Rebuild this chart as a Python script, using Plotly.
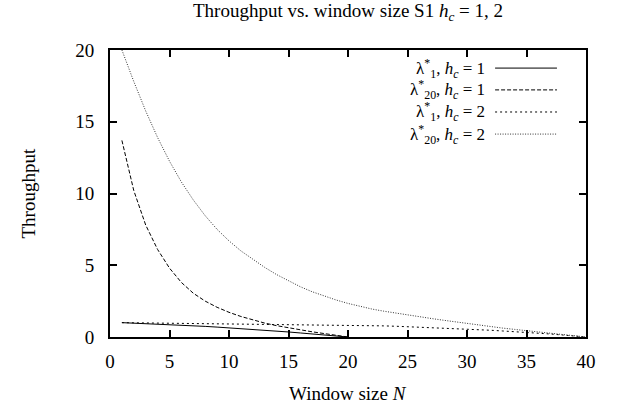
import plotly.graph_objects as go

# Window sizes
n_hc1 = list(range(1, 21))
n_hc2 = list(range(1, 41))

# Throughput for h_c = 1
lam1_hc1 = [1.00, 0.97, 0.93, 0.90, 0.86, 0.82, 0.78, 0.74, 0.69, 0.64,
            0.59, 0.53, 0.47, 0.41, 0.35, 0.28, 0.21, 0.14, 0.07, 0.00]
lam20_hc1 = [13.7, 10.2, 7.8, 6.1, 4.8, 3.8, 3.05, 2.5, 2.07, 1.72,
             1.43, 1.18, 0.97, 0.79, 0.63, 0.49, 0.36, 0.24, 0.12, 0.00]

# Throughput for h_c = 2
lam1_hc2 = [1.00, 0.99, 0.985, 0.975, 0.97, 0.965, 0.96, 0.95, 0.945, 0.94,
            0.93, 0.925, 0.915, 0.91, 0.90, 0.89, 0.875, 0.865, 0.85, 0.84,
            0.82, 0.80, 0.775, 0.75, 0.72, 0.69, 0.66, 0.625, 0.59, 0.55,
            0.51, 0.47, 0.42, 0.38, 0.33, 0.27, 0.21, 0.14, 0.07, 0.00]
lam20_hc2 = [20.0, 17.8, 15.75, 13.9, 12.25, 10.8, 9.55, 8.45, 7.5, 6.7,
             6.0, 5.4, 4.85, 4.35, 3.9, 3.5, 3.15, 2.85, 2.58, 2.34,
             2.13, 1.95, 1.80, 1.66, 1.53, 1.41, 1.29, 1.17, 1.05, 0.93,
             0.82, 0.72, 0.62, 0.53, 0.44, 0.35, 0.26, 0.17, 0.085, 0.00]

x_ticks = [0, 5, 10, 15, 20, 25, 30, 35, 40]
y_ticks = [0, 5, 10, 15, 20]

series = [
    ("λ<sup>*</sup><sub>1</sub>, <i>h<sub>c</sub></i> = 1", n_hc1, lam1_hc1, "solid", "#000"),
    ("λ<sup>*</sup><sub>20</sub>, <i>h<sub>c</sub></i> = 1", n_hc1, lam20_hc1, "4px,2px", "#000"),
    ("λ<sup>*</sup><sub>1</sub>, <i>h<sub>c</sub></i> = 2", n_hc2, lam1_hc2, "2px,3px", "#000"),
    ("λ<sup>*</sup><sub>20</sub>, <i>h<sub>c</sub></i> = 2", n_hc2, lam20_hc2, "1px,1.5px", "#333"),
]

FONT = "Liberation Serif"
fig = go.Figure()
for name, xs, ys, dash, col in series:
    fig.add_trace(go.Scatter(x=xs, y=ys, mode="lines", name=name,
                             line=dict(color=col, width=1, dash=dash),
                             showlegend=False))

# Key in the upper right: right-aligned labels followed by line samples
rows_y = [0.937, 0.861, 0.784, 0.707]
for (name, _, _, dash, col), ry in zip(series, rows_y):
    fig.add_annotation(x=0.792, y=ry, xref="paper", yref="paper", text=name,
                       showarrow=False, xanchor="right", yanchor="middle",
                       font=dict(family=FONT, size=17, color="#000"))
    fig.add_shape(type="line", xref="paper", yref="paper",
                  x0=0.809, x1=0.939, y0=ry, y1=ry,
                  line=dict(color=col, width=1, dash=dash))

fig.add_annotation(x=0.5, y=1.0, xref="paper", yref="paper", yshift=38,
                   text="Throughput vs. window size S1 <i>h<sub>c</sub></i> = 1, 2",
                   showarrow=False, xanchor="center", yanchor="middle",
                   font=dict(family=FONT, size=19, color="#000"))
fig.add_annotation(x=0.5, y=0, xref="paper", yref="paper", yshift=-56,
                   text="Window size <i>N</i>", showarrow=False,
                   xanchor="center", yanchor="middle",
                   font=dict(family=FONT, size=19, color="#000"))
fig.add_annotation(x=0, y=0.5, xref="paper", yref="paper", xshift=-82,
                   text="Throughput", showarrow=False, textangle=-90,
                   xanchor="center", yanchor="middle",
                   font=dict(family=FONT, size=19, color="#000"))

axis_common = dict(showgrid=False, zeroline=False, showline=True, linecolor="#000",
                   linewidth=2, mirror="ticks", ticks="inside", ticklen=7,
                   tickwidth=2, tickcolor="#000",
                   tickfont=dict(family=FONT, size=19, color="#000"))
fig.update_xaxes(range=[0, 40], tickvals=x_ticks, ticktext=[str(v) for v in x_ticks],
                 ticklabelstandoff=6, **axis_common)
fig.update_yaxes(range=[0, 20], tickvals=y_ticks, ticktext=[str(v) for v in y_ticks],
                 ticklabelstandoff=10, **axis_common)

fig.update_layout(width=618, height=412, plot_bgcolor="white", paper_bgcolor="white",
                  margin=dict(l=110, r=32, t=50, b=75),
                  font=dict(family=FONT, color="#000"))

fig.write_html("out.html")
